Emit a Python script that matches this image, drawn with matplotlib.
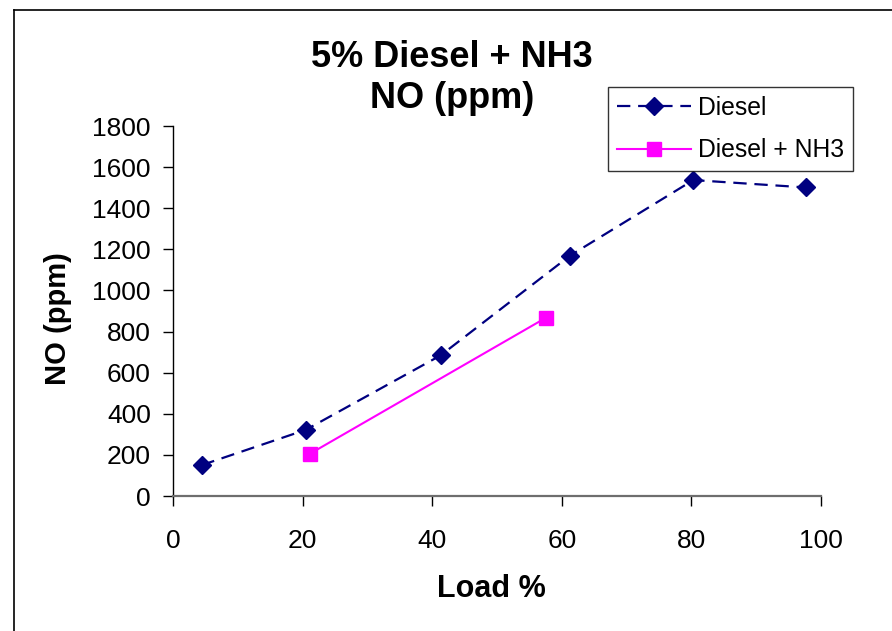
import matplotlib
matplotlib.use("Agg")
import matplotlib.pyplot as plt
from matplotlib.lines import Line2D

plt.rcParams['font.family'] = ['Liberation Sans', 'DejaVu Sans']

diesel_load = [4.4, 20.5, 41.3, 61.3, 80.3, 97.7]
diesel_no = [150, 322, 684, 1170, 1537, 1501]
nh3_load = [21.1, 57.6]
nh3_no = [205, 868]

title = "5% Diesel + NH3\nNO (ppm)"
xlabel = "Load %"
ylabel = "NO (ppm)"
xticks = [0, 20, 40, 60, 80, 100]
yticks = list(range(0, 1801, 200))

fig = plt.figure(figsize=(8.92, 6.31), dpi=100)
W, H = 892, 631
ax = fig.add_axes([173 / W, 1 - 496 / H, (821 - 173) / W, (496 - 126) / H])

ax.plot(diesel_load, diesel_no, color='#000080', lw=1.6, linestyle=(0, (6, 3.5)),
        marker='D', markersize=9, markeredgecolor='#000080', label='Diesel')
ax.plot(nh3_load, nh3_no, color='#FF00FF', lw=1.5, linestyle='-',
        marker='s', markersize=9.5, markeredgecolor='#FF00FF', label='Diesel + NH3')

ax.set_xlim(0, 100)
ax.set_ylim(0, 1800)
ax.set_xticks(xticks)
ax.set_yticks(yticks)
ax.spines['top'].set_visible(False)
ax.spines['right'].set_visible(False)
ax.spines['left'].set_color('black')
ax.spines['left'].set_linewidth(1.0)
ax.spines['bottom'].set_color('#6e6e6e')
ax.spines['bottom'].set_linewidth(1.6)
ax.tick_params(axis='both', direction='out', length=7, width=1, labelsize=19, colors='black')
ax.tick_params(axis='x', pad=17)
ax.tick_params(axis='y', pad=9)

fig.text(58 / W, 1 - 319 / H, ylabel, rotation=90, ha='center', va='center',
         fontsize=21, fontweight='bold')
fig.text(491 / W, 1 - 589 / H, xlabel, ha='center', va='center',
         fontsize=22, fontweight='bold')
fig.text(452 / W, 1 - 78 / H, title, ha='center', va='center',
         fontsize=26, fontweight='bold', linespacing=1.25)

leg = fig.legend(loc='upper left', bbox_to_anchor=(608 / W, 1 - 87 / H),
                 bbox_transform=fig.transFigure, fontsize=17.8, frameon=True,
                 fancybox=False, shadow=False, handlelength=3.0, borderaxespad=0,
                 borderpad=0.35, labelspacing=0.75, handletextpad=0.3)
leg.get_frame().set_edgecolor('black')
leg.get_frame().set_linewidth(1.0)

# chart border (left and top edges visible)
fig.add_artist(Line2D([14 / W, 14 / W], [0, 1 - 9.5 / H], transform=fig.transFigure,
                      color='black', lw=1.2))
fig.add_artist(Line2D([14 / W, 1], [1 - 9.5 / H, 1 - 9.5 / H], transform=fig.transFigure,
                      color='black', lw=1.2))

fig.savefig("out.png", dpi=100)
